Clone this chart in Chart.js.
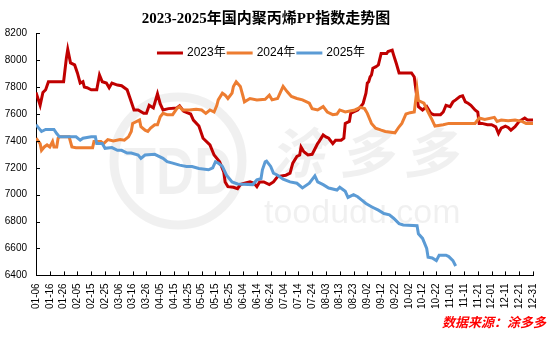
<!DOCTYPE html>
<html>
<head>
<meta charset="utf-8">
<script src="https://cdn.jsdelivr.net/npm/chart.js@4"></script>
<style>
  body { margin: 0; background: #fff; }
</style>
</head>
<body>
<canvas id="myChart" width="553" height="338"></canvas>
<script>
// x ticks every 10 days, starting 01-06
let dateTicks = ['01-06','01-16','01-26','02-05','02-15','02-25','03-06','03-16','03-26','04-05',
  '04-15','04-25','05-05','05-15','05-25','06-04','06-14','06-24','07-04','07-14','07-24','08-03',
  '08-13','08-23','09-02','09-12','09-22','10-02','10-12','10-22','11-01','11-11','11-21','12-01',
  '12-11','12-21','12-31'];

let seriesNames = ['2023年', '2024年', '2025年'];
let seriesColors = ['#C00000', '#ED7D31', '#5B9BD5'];

// [day since 01-06, index value]
let pp2023 = [[0,7760],[3,7665],[5,7760],[7,7780],[9,7840],[20,7840],[22,8015],[23,8080],[25,7980],
  [28,7965],[30,7905],[32,7830],[34,7840],[35,7800],[37,7795],[40,7780],[44,7780],[46,7890],[48,7840],
  [51,7830],[53,7795],[55,7830],[59,7815],[62,7810],[66,7780],[68,7720],[71,7630],[74,7630],[78,7605],
  [80,7605],[82,7665],[85,7645],[88,7750],[90,7675],[92,7630],[96,7640],[102,7645],[104,7660],[107,7620],
  [112,7600],[114,7555],[118,7510],[121,7420],[126,7370],[129,7295],[133,7245],[136,7170],[137,7095],
  [139,7060],[143,7055],[146,7045],[148,7075],[151,7085],[155,7095],[158,7085],[160,7060],[162,7095],
  [165,7095],[169,7075],[172,7095],[175,7135],[181,7145],[184,7160],[186,7235],[189,7285],[191,7295],
  [192,7355],[194,7320],[197,7295],[200,7300],[202,7340],[204,7380],[205,7395],[208,7445],[210,7430],
  [212,7420],[215,7380],[217,7405],[221,7405],[223,7420],[224,7530],[227,7545],[228,7605],[230,7615],
  [233,7630],[236,7665],[237,7680],[239,7755],[240,7830],[241,7840],[242,7875],[243,7890],[244,7940],
  [246,7950],[248,7965],[250,8050],[254,8050],[255,8065],[258,8075],[259,8040],[261,7975],[263,7905],
  [272,7905],[274,7875],[276,7715],[277,7655],[280,7630],[283,7655],[286,7605],[288,7595],[293,7595],
  [295,7615],[297,7665],[300,7655],[302,7690],[304,7705],[307,7730],[309,7735],[311,7690],[313,7680],
  [315,7665],[318,7630],[320,7615],[321,7530],[323,7530],[327,7520],[330,7520],[333,7505],[335,7455],
  [337,7495],[340,7510],[342,7500],[344,7480],[347,7505],[350,7545],[354,7570],[356,7555],[360,7555]];

let pp2024 = [[0,7420],[3,7380],[4,7330],[6,7355],[8,7370],[10,7355],[12,7395],[13,7355],[15,7355],
  [16,7420],[17,7430],[24,7430],[26,7355],[29,7350],[41,7350],[42,7395],[47,7395],[49,7380],[52,7410],
  [56,7400],[61,7410],[64,7405],[67,7430],[69,7470],[70,7530],[73,7545],[75,7555],[76,7505],[79,7480],
  [81,7470],[83,7495],[86,7520],[88,7520],[90,7580],[92,7605],[95,7595],[99,7595],[102,7640],[104,7655],
  [106,7630],[111,7630],[116,7635],[120,7630],[123,7605],[126,7630],[129,7615],[131,7665],[132,7705],
  [135,7755],[137,7740],[139,7715],[142,7755],[143,7805],[145,7840],[148,7805],[150,7730],[151,7690],
  [155,7715],[160,7705],[166,7710],[169,7740],[171,7705],[175,7715],[177,7760],[179,7805],[182,7765],
  [185,7730],[189,7715],[193,7705],[198,7680],[200,7640],[204,7630],[208,7655],[211,7615],[215,7595],
  [218,7600],[220,7630],[224,7615],[231,7630],[235,7650],[238,7640],[240,7605],[243,7530],[246,7495],
  [250,7480],[253,7470],[260,7460],[263,7505],[265,7530],[268,7600],[271,7610],[274,7615],[276,7785],
  [277,7700],[281,7680],[284,7615],[287,7555],[289,7510],[295,7520],[299,7530],[309,7530],[318,7530],
  [321,7570],[325,7560],[332,7575],[334,7545],[337,7555],[342,7550],[347,7555],[352,7545],[355,7530],
  [360,7530]];

let pp2025 = [[0,7520],[2,7495],[4,7470],[7,7485],[13,7485],[15,7455],[17,7430],[29,7430],[32,7405],
  [34,7420],[40,7430],[43,7430],[44,7380],[48,7380],[50,7345],[55,7350],[59,7330],[62,7330],[66,7310],
  [69,7310],[74,7295],[76,7270],[79,7295],[86,7300],[92,7270],[95,7245],[99,7235],[104,7220],[109,7210],
  [113,7210],[118,7195],[125,7185],[128,7200],[130,7245],[132,7235],[135,7210],[138,7145],[142,7095],
  [146,7080],[157,7075],[160,7110],[163,7120],[164,7185],[166,7245],[167,7250],[170,7210],[172,7160],
  [175,7145],[179,7115],[184,7095],[189,7085],[193,7050],[198,7085],[202,7140],[204,7095],[208,7075],
  [212,7050],[218,7035],[220,7055],[224,7025],[226,6980],[230,7000],[233,6985],[236,6960],[239,6935],
  [243,6910],[248,6885],[252,6860],[256,6850],[259,6825],[263,6785],[266,6775],[276,6770],[277,6710],
  [280,6675],[283,6600],[284,6535],[287,6530],[290,6510],[292,6550],[297,6550],[299,6540],[302,6510],
  [304,6470]];

let allSeries = [pp2023, pp2024, pp2025];

// title, legend, source note, watermark and inner tick marks
let decor = {
    id: 'decor',
    beforeDatasetsDraw(chart) {
        let ctx = chart.ctx;
        ctx.save();
        ctx.fillStyle = 'rgba(0,0,0,0.06)';
        ctx.strokeStyle = 'rgba(0,0,0,0.06)';
        ctx.lineWidth = 9;
        ctx.beginPath();
        ctx.arc(178, 161, 64, 0, Math.PI * 2);
        ctx.stroke();
        ctx.textAlign = 'center';
        ctx.textBaseline = 'middle';
        ctx.save();
        ctx.translate(178, 176);
        ctx.scale(0.8, 1);
        ctx.font = 'bold 66px "Liberation Sans"';
        ctx.fillText('TDD', 0, 0);
        ctx.restore();
        ctx.font = 'italic bold 54px "Noto Sans CJK SC"';
        ctx.fillText('涂', 297, 152);
        ctx.fillText('多', 366, 152);
        ctx.fillText('多', 430, 152);
        ctx.font = '34px "Liberation Sans"';
        ctx.textAlign = 'left';
        ctx.textBaseline = 'alphabetic';
        ctx.fillText('toodudu.com', 264, 223);
        ctx.restore();
    },
    afterDraw(chart) {
        let ctx = chart.ctx;
        let area = chart.chartArea;
        ctx.save();

        // tick marks pointing into the plot
        ctx.strokeStyle = '#000';
        ctx.lineWidth = 1;
        ctx.beginPath();
        chart.scales.y.ticks.forEach(t => {
            let y = Math.round(chart.scales.y.getPixelForValue(t.value)) + 0.5;
            ctx.moveTo(area.left, y);
            ctx.lineTo(area.left + 4, y);
        });
        chart.scales.x.ticks.forEach(t => {
            let x = Math.round(chart.scales.x.getPixelForValue(t.value)) + 0.5;
            ctx.moveTo(x, area.bottom);
            ctx.lineTo(x, area.bottom - 4);
        });
        ctx.stroke();

        // title
        ctx.fillStyle = '#000';
        ctx.textAlign = 'center';
        ctx.textBaseline = 'middle';
        ctx.font = 'bold 15px "Liberation Serif", "Noto Sans CJK SC"';
        ctx.fillText('2023-2025年国内聚丙烯PP指数走势图', 266, 19);

        // legend
        ctx.font = '12px "Liberation Sans", "Noto Sans CJK SC"';
        ctx.textAlign = 'left';
        let widths = seriesNames.map(n => ctx.measureText(n).width);
        let total = widths.reduce((a, b) => a + b, 0) + seriesNames.length * 30 + 2;
        let x = 261 - total / 2;
        let ly = 53;
        seriesNames.forEach((name, i) => {
            ctx.fillStyle = seriesColors[i];
            ctx.fillRect(x, ly - 1.5, 26, 3);
            ctx.fillStyle = '#000';
            ctx.fillText(name, x + 30, ly);
            x += 30 + widths[i] + 1;
        });

        // data source
        ctx.fillStyle = '#FF0000';
        ctx.textAlign = 'right';
        ctx.font = 'italic bold 13px "Noto Sans CJK SC"';
        ctx.fillText('数据来源：涂多多', 546, 322);
        ctx.restore();
    }
};

let ctxPP = document.getElementById('myChart').getContext('2d');

let chartPP = new Chart(ctxPP, {
    type: 'line',
    data: {
        datasets: allSeries.map((s, i) => ({
            label: seriesNames[i],
            data: s.map(p => ({ x: p[0], y: p[1] })),
            borderColor: seriesColors[i],
            backgroundColor: seriesColors[i],
            borderWidth: 3,
            pointRadius: 0,
            tension: 0,
            order: 3 - i
        }))
    },
    options: {
        responsive: false,
        animation: false,
        layout: {
            padding: { top: 33.3, right: 7, bottom: 0, left: 0 }
        },
        plugins: {
            legend: { display: false },
            title: { display: false },
            tooltip: { enabled: false }
        },
        scales: {
            x: {
                type: 'linear',
                min: 0,
                max: 360,
                grid: { display: false, drawTicks: false },
                border: { color: '#000', width: 1 },
                afterFit(scale) { scale.height = 62.6; },
                ticks: {
                    stepSize: 10,
                    autoSkip: false,
                    maxRotation: 90,
                    minRotation: 90,
                    padding: 8,
                    color: '#000',
                    font: { family: 'Liberation Sans', size: 10 },
                    callback: v => dateTicks[v / 10]
                }
            },
            y: {
                min: 6400,
                max: 8200,
                grid: { display: false, drawTicks: false },
                border: { color: '#000', width: 1 },
                afterFit(scale) { scale.width = 36; },
                ticks: {
                    stepSize: 200,
                    padding: 9,
                    color: '#000',
                    font: { family: 'Liberation Sans', size: 10 },
                    callback: v => String(v)
                }
            }
        }
    },
    plugins: [decor]
});
</script>
</body>
</html>
